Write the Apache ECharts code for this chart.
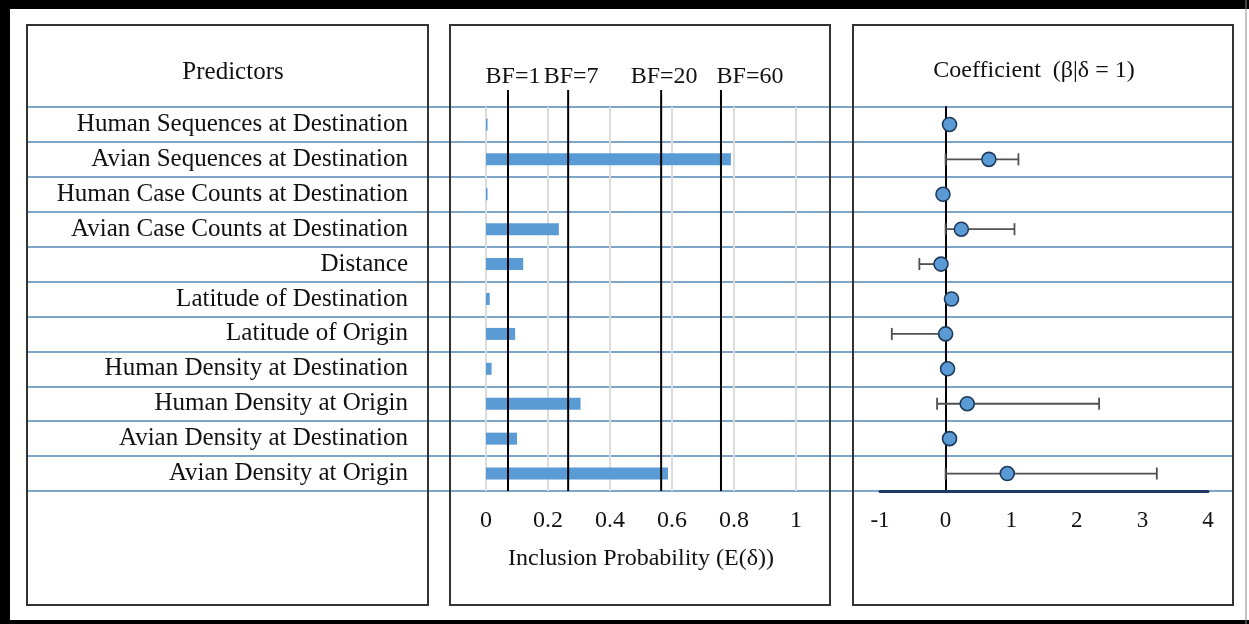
<!DOCTYPE html>
<html>
<head>
<meta charset="utf-8">
<script src="https://cdn.jsdelivr.net/npm/echarts@6/dist/echarts.min.js"></script>
<style>
html,body{margin:0;padding:0;background:#fff;}
#chart{width:1249px;height:624px;}
</style>
</head>
<body>
<div id="chart"></div>
<script>
// ---- data ----
const predictors = [
  'Human Sequences at Destination',
  'Avian Sequences at Destination',
  'Human Case Counts at Destination',
  'Avian Case Counts at Destination',
  'Distance',
  'Latitude of Destination',
  'Latitude of Origin',
  'Human Density at Destination',
  'Human Density at Origin',
  'Avian Density at Destination',
  'Avian Density at Origin'
];
const inclusionProb = [0.005, 0.79, 0.005, 0.235, 0.12, 0.012, 0.094, 0.018, 0.305, 0.10, 0.587];
const coefMean = [0.06, 0.66, -0.04, 0.24, -0.07, 0.09, 0.0, 0.03, 0.33, 0.06, 0.94];
const coefLow  = [null, 0, null, 0, -0.40, null, -0.82, null, -0.13, null, 0];
const coefHigh = [null, 1.11, null, 1.05, 0, null, 0, null, 2.34, null, 3.22];
const bfLabels = ['BF=1', 'BF=7', 'BF=20', 'BF=60'];
const bfThresholds = [0.071, 0.265, 0.565, 0.758];
const probAxis = {min: 0, max: 1, interval: 0.2};
const coefAxis = {min: -1, max: 4, interval: 1};
const titles = {left: 'Predictors', middle: 'Inclusion Probability (E(δ))', right: 'Coefficient  (β|δ = 1)'};

// ---- layout / style (not data) ----
const FONT = '"Liberation Serif", "Times New Roman", serif';
const TXT = '#111';
const BLUE = '#5b9bd5';
const ROWLINE = '#7ea6c9';
const bfLabelNudge = [5, 3, 3, 29];

const chart = echarts.init(document.getElementById('chart'));

const errData = [];
predictors.forEach((p, i) => {
  if (coefLow[i] !== null && coefHigh[i] !== null) errData.push([i, coefLow[i], coefHigh[i]]);
});

const option = {
  backgroundColor: '#fff',
  animation: false,
  grid: [
    {left: 26, right: 16, top: 107, bottom: 133},   // row separator lines
    {left: 486, right: 453, top: 107, bottom: 133}, // inclusion probability
    {left: 880, right: 41, top: 107, bottom: 133}   // coefficients
  ],
  xAxis: [
    {gridIndex: 0, type: 'value', show: false, min: 0, max: 1},
    {gridIndex: 1, type: 'value', min: probAxis.min, max: probAxis.max, interval: probAxis.interval,
      axisLine: {show: false}, axisTick: {show: false},
      splitLine: {show: true, lineStyle: {color: '#dcdcdc', width: 2}},
      axisLabel: {color: TXT, fontFamily: FONT, fontSize: 24, margin: 18},
      name: titles.middle, nameLocation: 'middle', nameGap: 56,
      nameTextStyle: {color: TXT, fontFamily: FONT, fontSize: 24}},
    {gridIndex: 2, type: 'value', min: coefAxis.min, max: coefAxis.max, interval: coefAxis.interval,
      axisLine: {show: true, onZero: false, lineStyle: {color: '#1f3864', width: 3}},
      axisTick: {show: false}, splitLine: {show: false},
      axisLabel: {color: TXT, fontFamily: FONT, fontSize: 23, margin: 18}}
  ],
  yAxis: [
    {gridIndex: 0, type: 'category', data: predictors, inverse: true,
      axisLine: {show: false}, axisTick: {show: false}, axisLabel: {show: false},
      splitLine: {show: true, lineStyle: {color: ROWLINE, width: 2}}},
    {gridIndex: 1, type: 'category', data: predictors, inverse: true,
      axisLine: {show: false}, axisTick: {show: false}, splitLine: {show: false},
      axisLabel: {color: TXT, fontFamily: FONT, fontSize: 25, margin: 78, align: 'right'}},
    {gridIndex: 2, type: 'category', data: predictors, inverse: true,
      axisLine: {show: true, onZero: true, lineStyle: {color: '#000', width: 2}},
      axisTick: {show: false}, axisLabel: {show: false}, splitLine: {show: false}}
  ],
  series: [
    {type: 'bar', xAxisIndex: 1, yAxisIndex: 1, data: inclusionProb, barWidth: 12,
      itemStyle: {color: BLUE}, z: 3},
    {type: 'custom', xAxisIndex: 1, yAxisIndex: 1, z: 4, clip: false,
      data: bfThresholds.map((v, i) => [v, i]),
      renderItem: function (params, api) {
        const cs = params.coordSys;
        const x = api.coord([api.value(0), 0])[0];
        const idx = params.dataIndex;
        return {type: 'group', children: [
          {type: 'line', shape: {x1: x, y1: cs.y - 17, x2: x, y2: cs.y + cs.height},
            style: {stroke: '#000', lineWidth: 2}},
          {type: 'text', x: x + bfLabelNudge[idx], y: cs.y - 30,
            style: {text: bfLabels[idx], fill: TXT, font: '24px ' + FONT,
              textAlign: 'center', textVerticalAlign: 'middle'}}
        ]};
      }},
    {type: 'custom', xAxisIndex: 2, yAxisIndex: 2, z: 4, data: errData,
      renderItem: function (params, api) {
        const cat = api.value(0);
        const p1 = api.coord([api.value(1), cat]);
        const p2 = api.coord([api.value(2), cat]);
        const st = {stroke: '#505050', lineWidth: 1.8};
        return {type: 'group', children: [
          {type: 'line', shape: {x1: p1[0], y1: p1[1], x2: p2[0], y2: p2[1]}, style: st},
          {type: 'line', shape: {x1: p1[0], y1: p1[1] - 6, x2: p1[0], y2: p1[1] + 6}, style: st},
          {type: 'line', shape: {x1: p2[0], y1: p2[1] - 6, x2: p2[0], y2: p2[1] + 6}, style: st}
        ]};
      }},
    {type: 'scatter', xAxisIndex: 2, yAxisIndex: 2, z: 5, symbol: 'circle', symbolSize: 14,
      data: coefMean.map((v, i) => [v, predictors[i]]),
      itemStyle: {color: BLUE, borderColor: '#1f3a5a', borderWidth: 1.6, opacity: 1}}
  ],
  graphic: [
    {type: 'rect', shape: {x: 0, y: 0, width: 1249, height: 9}, style: {fill: '#000'}, z: 10},
    {type: 'rect', shape: {x: 0, y: 0, width: 10, height: 624}, style: {fill: '#000'}, z: 10},
    {type: 'rect', shape: {x: 0, y: 620, width: 1249, height: 4}, style: {fill: '#000'}, z: 10},
    {type: 'line', shape: {x1: 1246, y1: 0, x2: 1246, y2: 624}, style: {stroke: '#888', lineWidth: 1}, z: 10},
    {type: 'rect', shape: {x: 27, y: 25, width: 401, height: 580}, style: {fill: 'none', stroke: '#333', lineWidth: 2}, z: 1},
    {type: 'rect', shape: {x: 450, y: 25, width: 380, height: 580}, style: {fill: 'none', stroke: '#333', lineWidth: 2}, z: 1},
    {type: 'rect', shape: {x: 853, y: 25, width: 380, height: 580}, style: {fill: 'none', stroke: '#333', lineWidth: 2}, z: 1},
    {type: 'text', x: 233, y: 72, style: {text: titles.left, fill: TXT, font: '25px ' + FONT, textAlign: 'center', textVerticalAlign: 'middle'}},
    {type: 'text', x: 1034, y: 71, style: {text: titles.right, fill: TXT, font: '24px ' + FONT, textAlign: 'center', textVerticalAlign: 'middle'}}
  ]
};
chart.setOption(option);
</script>
</body>
</html>
